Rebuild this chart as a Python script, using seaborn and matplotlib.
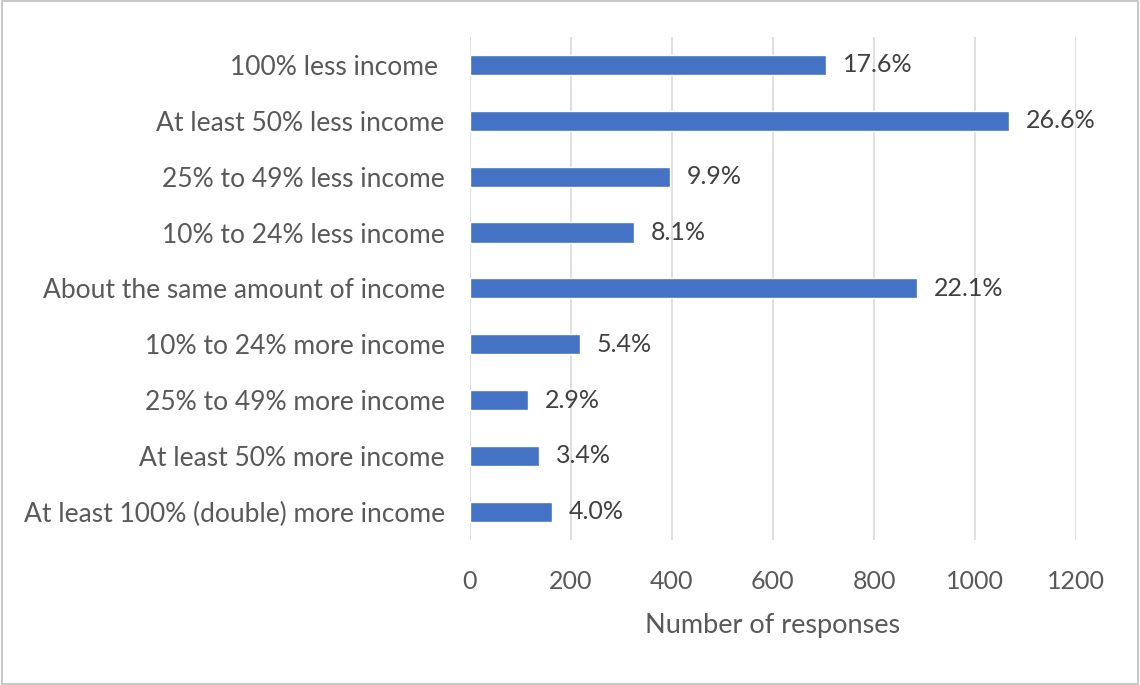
import matplotlib
matplotlib.use("Agg")
import matplotlib.pyplot as plt
import seaborn as sns
import pandas as pd

categories = ["100% less income ", "At least 50% less income", "25% to 49% less income",
              "10% to 24% less income", "About the same amount of income",
              "10% to 24% more income", "25% to 49% more income",
              "At least 50% more income", "At least 100% (double) more income"]
values = [705, 1067, 396, 325, 885, 218, 115, 137, 162]
pct_labels = ["17.6%", "26.6%", "9.9%", "8.1%", "22.1%", "5.4%", "2.9%", "3.4%", "4.0%"]
xticks = [0, 200, 400, 600, 800, 1000, 1200]

sns.set_style("white")
plt.rcParams['font.family'] = ['Lato', 'DejaVu Sans']
txt = "#595959"

df = pd.DataFrame({"cat": categories, "val": values})
fig = plt.figure(figsize=(11.4, 6.85), dpi=100)
ax = fig.add_axes([0.412, 0.212, 0.532, 0.734])
sns.barplot(data=df, x="val", y="cat", color="#4472C4", width=0.36, ax=ax, saturation=1, zorder=3)
for p, lab in zip(ax.patches, pct_labels):
    ax.text(p.get_x() + p.get_width() + 34, p.get_y() + p.get_height() / 2, lab,
            va="center", ha="left", fontsize=18, color="#404040")
ax.set_xlim(0, 1200)
ax.set_xticks(xticks)
ax.xaxis.grid(True, color="#d9d9d9", linewidth=1.2, zorder=0)
for s in ax.spines.values():
    s.set_visible(False)
ax.tick_params(axis="both", length=0, labelsize=19, colors=txt)
ax.tick_params(axis="x", pad=22, labelsize=18)
ax.tick_params(axis="y", pad=18)
ax.set_ylabel("")
ax.set_xlabel("Number of responses", fontsize=19.5, color=txt, labelpad=14)
fig.patches.append(plt.Rectangle((0.002, 0.002), 0.996, 0.996, transform=fig.transFigure,
                                 fill=False, edgecolor="#bfbfbf", linewidth=1.2))
fig.savefig("out.png", dpi=100)
